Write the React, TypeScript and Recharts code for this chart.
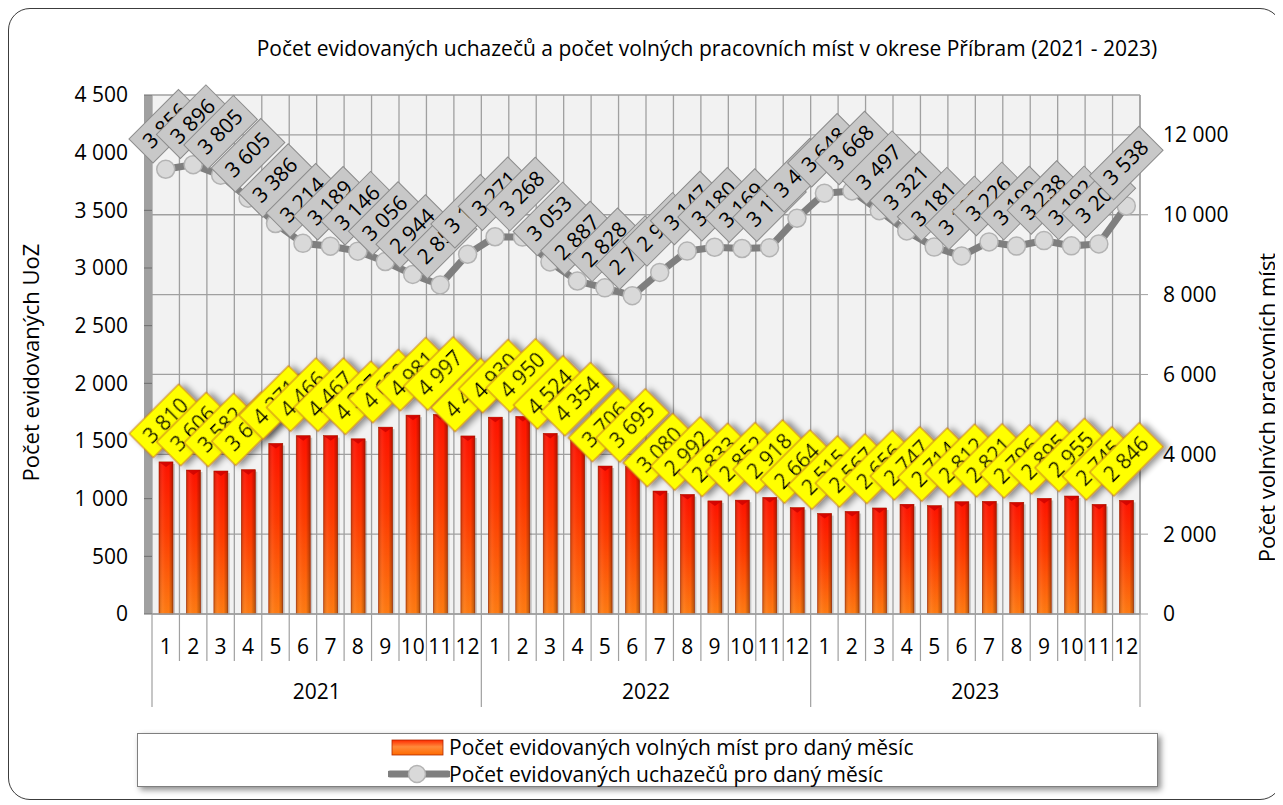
import React from 'react';
import { ComposedChart, Bar, Line, XAxis, YAxis, CartesianGrid } from 'recharts';

const years = ['2021', '2022', '2023'];
const months = ['1', '2', '3', '4', '5', '6', '7', '8', '9', '10', '11', '12'];
const volnaMista = [
  3810, 3606, 3582, 3614, 4271, 4466, 4467, 4387, 4680, 4981, 4997, 4460,
  4930, 4950, 4524, 4354, 3706, 3695, 3080, 2992, 2833, 2852, 2918, 2664,
  2515, 2567, 2656, 2747, 2714, 2812, 2821, 2796, 2895, 2955, 2745, 2846,
];
const uchazeci = [
  3856, 3896, 3805, 3605, 3386, 3214, 3189, 3146, 3056, 2944, 2853, 3119,
  3271, 3268, 3053, 2887, 2828, 2760, 2962, 3147, 3180, 3169, 3176, 3431,
  3648, 3668, 3497, 3321, 3181, 3105, 3226, 3190, 3238, 3192, 3209, 3538,
];
const leftTicks = [0, 500, 1000, 1500, 2000, 2500, 3000, 3500, 4000, 4500];
const rightTicks = [0, 2000, 4000, 6000, 8000, 10000, 12000];

const TITLE = 'Počet evidovaných uchazečů a počet volných pracovních míst v okrese Příbram (2021 - 2023)';
const LEFT_TITLE = 'Počet evidovaných UoZ';
const RIGHT_TITLE = 'Počet volných pracovních míst';
const BAR_NAME = 'Počet evidovaných volných míst pro daný měsíc';
const LINE_NAME = 'Počet evidovaných uchazečů pro daný měsíc';

const data = years.flatMap((yr, yi) =>
  months.map((m, mi) => ({
    key: `${yr}-${m}`,
    year: yr,
    month: m,
    mista: volnaMista[yi * 12 + mi],
    uchazeci: uchazeci[yi * 12 + mi],
  }))
);

const FONT = "'Open Sans', sans-serif";
const FS = 21;
const fmt = (n: number) => String(n).replace(/\B(?=(\d{3})+(?!\d))/g, ' ');

function RotBox({ cx, cy, text, fill, stroke, shadow }: any) {
  return (
    <g transform={`translate(${cx},${cy}) rotate(-45)`} filter={shadow ? 'url(#lblShadow)' : undefined}>
      <rect x={-35} y={-17} width={70} height={34} fill={fill} stroke={stroke} strokeWidth={1} />
      <text x={0} y={1} textAnchor="middle" dominantBaseline="middle" fontSize={FS} fontFamily={FONT} fill="#000">
        {text}
      </text>
    </g>
  );
}

function LineLabel(props: any) {
  const x = props.x ?? props.viewBox?.x;
  const y = props.y ?? props.viewBox?.y;
  if (x == null || y == null) return null;
  return <RotBox cx={x} cy={y - 43} text={fmt(props.value)} fill="#c8c8c8" stroke="#8c8c8c" />;
}

function BarLabel(props: any) {
  const x = props.x ?? props.viewBox?.x;
  const y = props.y ?? props.viewBox?.y;
  const w = props.width ?? props.viewBox?.width ?? 0;
  if (x == null || y == null) return null;
  return <RotBox cx={x + w / 2} cy={y - 41} text={fmt(props.value)} fill="#ffff00" stroke="#c8781e" shadow />;
}

function BarShape(props: any) {
  const { x, y, width, height } = props;
  if (!height || height <= 0) return null;
  return (
    <g>
      <rect x={x + 2} y={y + 2} width={width} height={height - 2} fill="rgba(0,0,0,0.18)" />
      <rect x={x} y={y} width={width} height={height} fill="url(#barV)" stroke="#b02a00" strokeWidth={0.6} />
      <rect x={x} y={y} width={width} height={height} fill="url(#barH)" />
      <polygon points={`${x},${y} ${x + width},${y} ${x + width / 2},${y + 5}`} fill="#c80000" opacity={0.75} />
    </g>
  );
}

function MonthTick(props: any) {
  const { x, y, payload, index } = props;
  const n = data.length;
  const bw = payload && payload.offset ? payload.offset * 2 : (props.width || 988) / n;
  const row = data[index] || data[0];
  const isFirst = row.month === months[0];
  const isLast = index === n - 1;
  const isMid = row.month === months[5];
  return (
    <g>
      <line x1={x - bw / 2} x2={x - bw / 2} y1={y} y2={y + (isFirst ? 93 : 47)} stroke="#a0a0a0" strokeWidth={1.2} />
      {isLast && <line x1={x + bw / 2} x2={x + bw / 2} y1={y} y2={y + 93} stroke="#a0a0a0" strokeWidth={1.2} />}
      <text x={x} y={y + 34} textAnchor="middle" dominantBaseline="middle" fontSize={FS} fontFamily={FONT} fill="#000">
        {row.month}
      </text>
      {isMid && (
        <text x={x + bw / 2} y={y + 79} textAnchor="middle" dominantBaseline="middle" fontSize={FS} fontFamily={FONT} fill="#000">
          {row.year}
        </text>
      )}
    </g>
  );
}

function AxisTitle(props: any) {
  const vb = props.viewBox || {};
  const cx = vb.x + props.dx;
  const cy = vb.y + vb.height / 2 + props.dy;
  return (
    <text
      x={cx}
      y={cy}
      transform={`rotate(-90 ${cx} ${cy})`}
      textAnchor="middle"
      dominantBaseline="middle"
      fontSize={22}
      fontFamily={FONT}
      fill="#000"
    >
      {props.text}
    </text>
  );
}

export default function App() {
  const W = 1274;
  const H = 792;
  return (
    <div
      style={{
        position: 'relative',
        width: W,
        height: H,
        border: '1px solid #3c3c3c',
        borderRadius: 22,
        boxSizing: 'border-box',
        background: '#fff',
        fontFamily: FONT,
      }}
    >
      <div style={{ position: 'absolute', left: -1, top: -1, width: W, height: H }}>
        <div
          style={{
            position: 'absolute',
            left: 149,
            top: 26,
            width: 1100,
            textAlign: 'center',
            fontSize: FS,
            lineHeight: '28px',
            color: '#000',
          }}
        >
          {TITLE}
        </div>
        <ComposedChart width={W} height={H} data={data} margin={{ top: 87, right: 57, bottom: 86, left: 84 }}>
          <defs>
            <linearGradient id="barV" x1="0" y1="0" x2="0" y2="1">
              <stop offset="0%" stopColor="#ff1200" />
              <stop offset="45%" stopColor="#ff3a00" />
              <stop offset="100%" stopColor="#ff7c12" />
            </linearGradient>
            <linearGradient id="barH" x1="0" y1="0" x2="1" y2="0">
              <stop offset="0%" stopColor="#000" stopOpacity={0.22} />
              <stop offset="30%" stopColor="#fff" stopOpacity={0.05} />
              <stop offset="70%" stopColor="#000" stopOpacity={0} />
              <stop offset="100%" stopColor="#000" stopOpacity={0.3} />
            </linearGradient>
            <filter id="lblShadow" x="-60%" y="-60%" width="220%" height="220%">
              <feDropShadow dx="3" dy="4" stdDeviation="3" floodColor="#000" floodOpacity="0.45" />
            </filter>
          </defs>
          <CartesianGrid
            yAxisId="right"
            fill="#f2f2f2"
            stroke="#a0a0a0"
            strokeWidth={1.3}
            verticalCoordinatesGenerator={({ offset }: any) =>
              Array.from({ length: data.length + 1 }, (_, i) => offset.left + (i * offset.width) / data.length)
            }
          />
          <XAxis
            dataKey="key"
            interval={0}
            tickLine={false}
            tickSize={0}
            tickMargin={0}
            axisLine={{ stroke: '#a0a0a0', strokeWidth: 1.3 }}
            height={100}
            tick={<MonthTick />}
          />
          <YAxis
            yAxisId="left"
            domain={[0, 4500]}
            ticks={leftTicks}
            width={60}
            tickFormatter={fmt}
            tick={{ fontSize: FS, fill: '#000', fontFamily: FONT }}
            tickSize={8}
            tickMargin={16}
            tickLine={{ stroke: '#6e6e6e' }}
            axisLine={{ stroke: '#a0a0a0', strokeWidth: 8, transform: 'translate(-4 0)' }}
            label={<AxisTitle text={LEFT_TITLE} dx={-59} dy={8} />}
          />
          <YAxis
            yAxisId="right"
            orientation="right"
            domain={[0, 13000]}
            ticks={rightTicks}
            width={85}
            tickFormatter={fmt}
            tick={{ fontSize: FS, fill: '#000', fontFamily: FONT }}
            tickSize={8}
            tickMargin={15}
            tickLine={{ stroke: '#a0a0a0' }}
            axisLine={{ stroke: '#a0a0a0', strokeWidth: 1.5 }}
            label={<AxisTitle text={RIGHT_TITLE} dx={129} dy={53} />}
          />
          <Bar
            yAxisId="right"
            dataKey="mista"
            name={BAR_NAME}
            barSize={14}
            shape={<BarShape />}
            label={<BarLabel />}
            isAnimationActive={false}
          />
          <Line
            yAxisId="left"
            dataKey="uchazeci"
            name={LINE_NAME}
            type="linear"
            stroke="#7f7f7f"
            strokeWidth={7}
            dot={{ r: 9, fill: '#d9d9d9', stroke: '#b3b3b3', strokeWidth: 1.5 }}
            label={<LineLabel />}
            isAnimationActive={false}
          />
        </ComposedChart>
        <div
          style={{
            position: 'absolute',
            left: 129,
            top: 725,
            width: 1021,
            height: 54,
            border: '1px solid #7f7f7f',
            background: '#fff',
            boxShadow: '3px 3px 6px rgba(0,0,0,0.45)',
            boxSizing: 'border-box',
          }}
        >
          <svg style={{ position: 'absolute', left: 253, top: 5 }} width={54} height={18}>
            <defs>
              <linearGradient id="legBar" x1="0" y1="0" x2="0" y2="1">
                <stop offset="0%" stopColor="#ff2a00" />
                <stop offset="45%" stopColor="#ff8a3a" />
                <stop offset="100%" stopColor="#ff6a00" />
              </linearGradient>
            </defs>
            <rect x={1} y={1} width={51} height={15} fill="url(#legBar)" stroke="#b02a00" strokeWidth={0.8} />
          </svg>
          <div style={{ position: 'absolute', left: 311, top: -1, fontSize: FS, lineHeight: '28px', color: '#000', whiteSpace: 'nowrap' }}>
            {BAR_NAME}
          </div>
          <svg style={{ position: 'absolute', left: 250, top: 29 }} width={62} height={22}>
            <line x1={2} x2={60} y1={11} y2={11} stroke="#7f7f7f" strokeWidth={7} strokeLinecap="round" />
            <circle cx={29} cy={11} r={8.5} fill="#d9d9d9" stroke="#b3b3b3" strokeWidth={1.5} />
          </svg>
          <div style={{ position: 'absolute', left: 311, top: 26, fontSize: FS, lineHeight: '28px', color: '#000', whiteSpace: 'nowrap' }}>
            {LINE_NAME}
          </div>
        </div>
      </div>
    </div>
  );
}
